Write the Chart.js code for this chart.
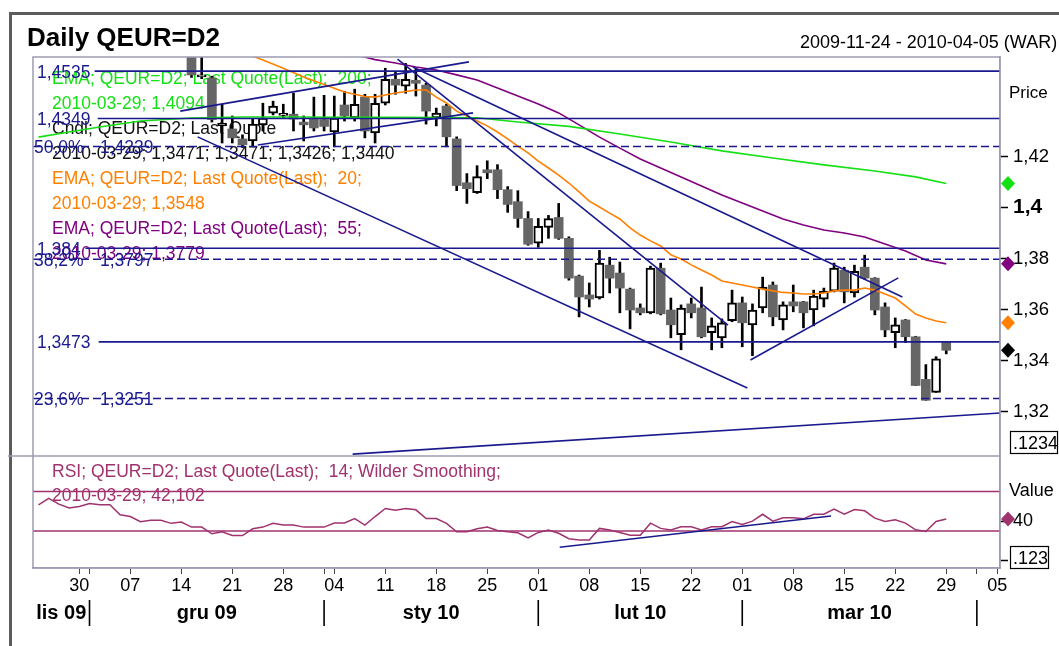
<!DOCTYPE html>
<html>
<head>
<meta charset="utf-8">
<title>Daily QEUR=D2</title>
<script src="https://cdn.jsdelivr.net/npm/chart.js@4.4.1/dist/chart.umd.min.js"></script>
<style>
  html, body { margin: 0; padding: 0; background: #fff; }
</style>
</head>
<body>
<canvas id="myChart" width="1059" height="646"></canvas>
<script>
/* globals Chart:false */
"use strict";

// x = trading day counted from 2009-11-24 (day 0), weekends skipped
const dayTicks = [4, 5, 9, 14, 19, 24, 28, 29, 34, 39, 44, 49, 54, 59, 64, 69, 74, 79, 84, 89, 92, 94];
const dayTickLabels = ["30", "", "07", "14", "21", "28", "", "04", "11", "18", "25", "01", "08", "15", "22", "01", "08", "15", "22", "29", "", "05"];
const monthStarts = [5, 28, 49, 69, 92];
const monthLabels = ["lis 09", "gru 09", "sty 10", "lut 10", "mar 10"];
const lastDate = "2010-03-29";

// daily candles, first one is day 15 (2009-12-15)
const firstCandle = 15;
const open = [1.4605, 1.4512, 1.4508, 1.4320, 1.4308, 1.4269, 1.4261, 1.4324, 1.4370, 1.4361,
  1.4366, 1.4335, 1.4351, 1.4345, 1.4296, 1.4402, 1.4351, 1.4433, 1.4292, 1.4409,
  1.4503, 1.4476, 1.4499, 1.4480, 1.4351, 1.4398, 1.4269, 1.4097, 1.4058, 1.4148,
  1.4148, 1.4070, 1.4023, 1.3957, 1.3860, 1.3922, 1.3961, 1.3879, 1.3731, 1.3657,
  1.3645, 1.3774, 1.3743, 1.3680, 1.3606, 1.3587, 1.3762, 1.3598, 1.3501, 1.3622,
  1.3606, 1.3509, 1.3489, 1.3556, 1.3626, 1.3540, 1.3606, 1.3696, 1.3559, 1.3630,
  1.3630, 1.3598, 1.3641, 1.3672, 1.3754, 1.3665, 1.3766, 1.3723, 1.3610, 1.3509,
  1.3559, 1.3493, 1.3326, 1.3275, 1.3471];
const high = [1.4620, 1.4590, 1.4515, 1.4405, 1.4359, 1.4285, 1.4347, 1.4409, 1.4417, 1.4405,
  1.4448, 1.4359, 1.4433, 1.4440, 1.4437, 1.4456, 1.4464, 1.4444, 1.4444, 1.4546,
  1.4534, 1.4565, 1.4542, 1.4487, 1.4390, 1.4405, 1.4277, 1.4133, 1.4164, 1.4183,
  1.4168, 1.4082, 1.4066, 1.3984, 1.3957, 1.3969, 1.4016, 1.3885, 1.3735, 1.3704,
  1.3832, 1.3805, 1.3786, 1.3684, 1.3622, 1.3770, 1.3782, 1.3645, 1.3618, 1.3645,
  1.3688, 1.3567, 1.3563, 1.3676, 1.3649, 1.3622, 1.3727, 1.3708, 1.3630, 1.3696,
  1.3632, 1.3676, 1.3684, 1.3782, 1.3766, 1.3774, 1.3813, 1.3725, 1.3626, 1.3567,
  1.3561, 1.3495, 1.3384, 1.3415, 1.3471];
const low = [1.4510, 1.4505, 1.4335, 1.4253, 1.4253, 1.4235, 1.4242, 1.4300, 1.4363, 1.4351,
  1.4300, 1.4261, 1.4300, 1.4300, 1.4238, 1.4339, 1.4339, 1.4273, 1.4253, 1.4402,
  1.4444, 1.4448, 1.4437, 1.4327, 1.4320, 1.4238, 1.4066, 1.4016, 1.4055, 1.4113,
  1.4035, 1.3981, 1.3922, 1.3852, 1.3844, 1.3879, 1.3875, 1.3715, 1.3571, 1.3610,
  1.3641, 1.3665, 1.3587, 1.3524, 1.3579, 1.3583, 1.3579, 1.3489, 1.3442, 1.3567,
  1.3489, 1.3442, 1.3450, 1.3552, 1.3454, 1.3419, 1.3587, 1.3536, 1.3520, 1.3591,
  1.3528, 1.3536, 1.3610, 1.3669, 1.3626, 1.3649, 1.3719, 1.3579, 1.3493, 1.3450,
  1.3470, 1.3302, 1.3244, 1.3275, 1.3426];
const close = [1.4520, 1.4517, 1.4345, 1.4331, 1.4273, 1.4246, 1.4327, 1.4351, 1.4398, 1.4366,
  1.4347, 1.4324, 1.4312, 1.4318, 1.4351, 1.4359, 1.4405, 1.4300, 1.4409, 1.4503,
  1.4480, 1.4503, 1.4487, 1.4378, 1.4370, 1.4277, 1.4086, 1.4074, 1.4121, 1.4136,
  1.4070, 1.4012, 1.3957, 1.3856, 1.3926, 1.3957, 1.3879, 1.3723, 1.3649, 1.3641,
  1.3782, 1.3723, 1.3684, 1.3598, 1.3587, 1.3762, 1.3583, 1.3540, 1.3606, 1.3587,
  1.3493, 1.3536, 1.3548, 1.3626, 1.3548, 1.3598, 1.3688, 1.3571, 1.3618, 1.3614,
  1.3587, 1.3653, 1.3672, 1.3762, 1.3669, 1.3750, 1.3723, 1.3598, 1.3520, 1.3540,
  1.3493, 1.3302, 1.3244, 1.3407, 1.3440];

// moving averages
const ema200Days = [0, 3, 6, 10, 15, 20, 25, 30, 35, 40, 43, 47, 52, 57, 62, 67, 72, 77, 82, 86, 89];
const ema200 = [1.4276, 1.4296, 1.4316, 1.4339, 1.4351, 1.4355, 1.4355, 1.4354, 1.4354, 1.4353, 1.4352,
  1.4335, 1.4318, 1.4288, 1.4257, 1.4222, 1.4194, 1.4167, 1.4143, 1.4120, 1.4094];
const ema20Days = [20, 21, 22, 24, 26, 28, 30, 32, 33, 34, 35, 36, 37, 38, 39, 40, 41, 42, 43, 44,
  45, 46, 47, 48, 49, 50, 51, 52, 53, 54, 55, 56, 57, 58, 59, 60, 61, 62, 63, 64,
  65, 66, 67, 68, 69, 70, 71, 72, 73, 74, 75, 76, 77, 78, 79, 80, 81, 82, 83, 84,
  85, 86, 87, 88, 89];
const ema20 = [1.4610, 1.4594, 1.4578, 1.4546, 1.4512, 1.4482, 1.4453, 1.4435, 1.4433, 1.4441,
  1.4449, 1.4455, 1.4461, 1.4461, 1.4433, 1.4410, 1.4378, 1.4359, 1.4339, 1.4320,
  1.4296, 1.4269, 1.4241, 1.4214, 1.4182, 1.4155, 1.4127, 1.4096, 1.4061, 1.4025,
  1.4002, 1.3978, 1.3955, 1.3920, 1.3892, 1.3869, 1.3849, 1.3814, 1.3798, 1.3775,
  1.3755, 1.3735, 1.3712, 1.3704, 1.3696, 1.3688, 1.3680, 1.3673, 1.3667, 1.3665,
  1.3661, 1.3661, 1.3665, 1.3673, 1.3676, 1.3676, 1.3684, 1.3676, 1.3661, 1.3645,
  1.3614, 1.3582, 1.3567, 1.3555, 1.3548];
const ema55Days = [31, 33, 35, 37, 39, 41, 43, 45, 47, 49, 51, 53, 55, 57, 59, 61, 63, 65, 67, 69,
  71, 73, 75, 77, 79, 81, 83, 85, 87, 89];
const ema55 = [1.4600, 1.4580, 1.4567, 1.4551, 1.4539, 1.4520, 1.4500, 1.4469, 1.4437, 1.4406,
  1.4371, 1.4324, 1.4276, 1.4233, 1.4190, 1.4155, 1.4120, 1.4084, 1.4049, 1.4018,
  1.3986, 1.3955, 1.3931, 1.3912, 1.3900, 1.3884, 1.3857, 1.3829, 1.3794, 1.3779];

// RSI 14, one value per day from day 0
const rsi = [56.5, 63.1, 57.2, 53.2, 54.8, 57.9, 56.5, 56.5, 46.3, 44.6,
  39.4, 40.8, 40.8, 37.7, 39.1, 33.9, 33.9, 27.1, 29.2, 25.4,
  25.4, 32.2, 33.9, 37.7, 36.0, 36.0, 33.9, 33.9, 33.9, 38.1,
  38.1, 42.5, 36.0, 44.6, 52.8, 51.0, 52.8, 51.4, 42.5, 42.5,
  37.7, 29.2, 29.2, 32.2, 33.9, 30.5, 29.2, 28.2, 23.0, 28.5,
  30.9, 27.7, 22.2, 20.8, 20.8, 32.6, 30.9, 28.5, 25.6, 25.6,
  37.9, 32.6, 30.9, 34.3, 34.3, 30.9, 34.3, 34.3, 39.6, 36.5,
  39.9, 46.9, 39.9, 43.4, 43.4, 42.3, 46.9, 46.9, 52.2, 46.9,
  51.7, 50.4, 43.0, 39.6, 41.3, 37.9, 31.2, 29.5, 39.6, 42.102];
const rsiBands = [70, 30];

// horizontal levels (null start = from the left edge)
const levels = [1.4535, 1.4349, 1.4239, 1.384, 1.3797, 1.3473, 1.3251];
const levelFib = ["", "", "50,0%", "", "38,2%", "", "23,6%"];
const levelFrom = [5.5, 5.8, null, 4.6, null, 5.9, null];

// drawn trend lines
const trendStartDay = [13.9, 21.5, 15.6, 35.2, 36.7, 69.8, 30.8];
const trendStartVal = [1.4378, 1.4245, 1.4277, 1.4582, 1.4551, 1.3402, 1.3033];
const trendEndDay = [42.2, 42.6, 69.5, 67.6, 84.7, 84.3, 94.3];
const trendEndVal = [1.4571, 1.4371, 1.3292, 1.3539, 1.3649, 1.3724, 1.3194];
const rsiTrendDay = [51.1, 77.7];
const rsiTrendVal = [13.5, 45.2];

const priceTicks = [1.32, 1.34, 1.36, 1.38, 1.4, 1.42];
const priceTickLabels = ["1,32", "1,34", "1,36", "1,38", "1,4", "1,42"];
const rsiTicks = [0, 40];
const rsiTickLabels = ["", "40"];

(() => {
    const FONT = '"Liberation Sans", Arial, Helvetica, sans-serif';
    const NAVY = "#1a1a8e";
    const GREEN = "#14e014";
    const ORANGE = "#ff7f00";
    const PURPLE = "#800080";
    const RSI_COL = "#a0326e";
    const FRAME = "#9c9cb2";
    const X_MIN = -0.54;
    const X_MAX = 94.27;

    // decimal comma, fixed digits where given
    const fmt = (v, d) => (d === undefined ? String(v) : v.toFixed(d)).replace(".", ",");
    const pts = (days, vals) => days.map((d, k) => ({ x: d, y: vals[k] }));
    const last = (a) => a[a.length - 1];

    const candleDays = open.map((_, k) => firstCandle + k);
    const isUp = close.map((c, k) => c >= open[k]);

    const legendText = [
        "EMA; QEUR=D2; Last Quote(Last);  200;",
        lastDate + "; " + fmt(last(ema200), 4),
        "Cndl; QEUR=D2; Last Quote",
        lastDate + "; " + [open, high, low, close].map((a) => fmt(last(a), 4)).join("; "),
        "EMA; QEUR=D2; Last Quote(Last);  20;",
        lastDate + "; " + fmt(last(ema20), 4),
        "EMA; QEUR=D2; Last Quote(Last);  55;",
        lastDate + "; " + fmt(last(ema55), 4),
    ];
    const legendColors = [GREEN, GREEN, "#111", "#111", ORANGE, ORANGE, PURPLE, PURPLE];

    const line = (data, color, width, order, extra) => Object.assign({
        type: "line",
        data: data,
        borderColor: color,
        borderWidth: width,
        pointRadius: 0,
        tension: 0,
        fill: false,
        order: order,
        yAxisID: "y",
    }, extra || {});

    const datasets = [];

    // candles: wicks first, then bodies
    datasets.push({
        type: "bar",
        data: candleDays.map((d, k) => ({ x: d, y: [low[k], high[k]] })),
        backgroundColor: "#000",
        barThickness: 2,
        grouped: false,
        order: 20,
        yAxisID: "y",
    });
    datasets.push({
        type: "bar",
        data: candleDays.map((d, k) => ({ x: d, y: [open[k], close[k]] })),
        backgroundColor: isUp.map((u) => (u ? "#fff" : "#666")),
        borderColor: "#000",
        borderWidth: isUp.map((u) => (u ? 2 : 0)),
        borderSkipped: false,
        barThickness: 9,
        minBarLength: 2,
        grouped: false,
        order: 15,
        yAxisID: "y",
    });

    datasets.push(line(pts(ema200Days, ema200), GREEN, 1.6, 5));
    datasets.push(line(pts(ema20Days, ema20), ORANGE, 1.6, 5));
    datasets.push(line(pts(ema55Days, ema55), PURPLE, 1.6, 5));

    levels.forEach((v, k) => {
        const from = levelFrom[k] === null ? X_MIN : levelFrom[k];
        datasets.push(line([{ x: from, y: v }, { x: X_MAX, y: v }], NAVY, 1.6, 4,
            levelFib[k] ? { borderDash: [8, 4] } : {}));
    });

    trendStartDay.forEach((d, k) => {
        datasets.push(line([{ x: d, y: trendStartVal[k] }, { x: trendEndDay[k], y: trendEndVal[k] }], NAVY, 1.6, 3));
    });

    // RSI pane
    datasets.push(line(rsi.map((v, k) => ({ x: k, y: v })), RSI_COL, 1.5, 5, { yAxisID: "y2" }));
    rsiBands.forEach((v) => {
        datasets.push(line([{ x: X_MIN, y: v }, { x: X_MAX, y: v }], RSI_COL, 1.5, 4, { yAxisID: "y2" }));
    });
    datasets.push(line(pts(rsiTrendDay, rsiTrendVal), NAVY, 1.6, 3, { yAxisID: "y2" }));

    const diamond = (ctx, x, y, color) => {
        ctx.fillStyle = color;
        ctx.beginPath();
        ctx.moveTo(x, y - 7.5);
        ctx.lineTo(x + 7, y);
        ctx.lineTo(x, y + 7.5);
        ctx.lineTo(x - 7, y);
        ctx.closePath();
        ctx.fill();
    };

    const decor = {
        id: "decor",
        beforeDraw(chart) {
            const ctx = chart.ctx;
            ctx.save();
            ctx.fillStyle = "#fff";
            ctx.fillRect(0, 0, chart.width, chart.height);
            // outer frame
            ctx.fillStyle = "#5c5c5c";
            ctx.fillRect(9, 12, chart.width - 9, 3);
            ctx.fillRect(9, 12, 3, chart.height - 12);
            ctx.fillStyle = "#000";
            ctx.textBaseline = "alphabetic";
            ctx.font = "bold 26px " + FONT;
            ctx.fillText("Daily QEUR=D2", 27, 46);
            ctx.font = "18px " + FONT;
            ctx.fillText("2009-11-24 - 2010-04-05 (WAR)", 800, 48);
            ctx.restore();
        },
        beforeDatasetsDraw(chart) {
            const ctx = chart.ctx;
            const a = chart.chartArea;
            const ys = chart.scales.y;
            ctx.save();
            ctx.textBaseline = "alphabetic";
            ctx.font = "17.5px " + FONT;
            legendText.forEach((t, k) => {
                ctx.fillStyle = legendColors[k];
                ctx.fillText(t, a.left + 19, a.top + 26.5 + k * 25.1);
            });
            ctx.fillStyle = NAVY;
            levels.forEach((v, k) => {
                const y = ys.getPixelForValue(v) + 6.5;
                if (levelFib[k]) {
                    ctx.fillText(levelFib[k], a.left + 1, y);
                    ctx.fillText(fmt(v, 4), a.left + 67, y);
                } else {
                    ctx.fillText(fmt(v), a.left + 4, y);
                }
            });
            const r = chart.scales.y2;
            ctx.fillStyle = RSI_COL;
            ctx.fillText("RSI; QEUR=D2; Last Quote(Last);  14; Wilder Smoothing;", a.left + 19, r.top + 21);
            ctx.fillText(lastDate + "; " + fmt(last(rsi), 3), a.left + 19, r.top + 45);
            ctx.restore();
        },
        afterDraw(chart) {
            const ctx = chart.ctx;
            const a = chart.chartArea;
            const ys = chart.scales.y;
            const r = chart.scales.y2;
            const xs = chart.scales.x;
            ctx.save();
            // pane frames
            ctx.strokeStyle = FRAME;
            ctx.lineWidth = 1.5;
            ctx.strokeRect(a.left, a.top, a.right - a.left, a.bottom - a.top);
            ctx.beginPath();
            ctx.moveTo(8, ys.bottom);
            ctx.lineTo(a.right, ys.bottom);
            ctx.stroke();

            // last-value markers
            const mx = a.right + 8;
            diamond(ctx, mx, ys.getPixelForValue(last(ema200)), GREEN);
            diamond(ctx, mx, ys.getPixelForValue(last(ema55)), PURPLE);
            diamond(ctx, mx, ys.getPixelForValue(last(ema20)), ORANGE);
            diamond(ctx, mx, ys.getPixelForValue(last(close)), "#000");
            diamond(ctx, mx, r.getPixelForValue(last(rsi)), RSI_COL);

            ctx.fillStyle = "#000";
            ctx.textBaseline = "alphabetic";
            ctx.font = "17px " + FONT;
            ctx.fillText("Price", a.right + 9, ys.top + 41);
            ctx.font = "18px " + FONT;
            ctx.fillText("Value", a.right + 9, r.top + 40);

            // precision boxes
            ctx.strokeStyle = "#000";
            ctx.lineWidth = 1.2;
            ctx.fillStyle = "#fff";
            ctx.fillRect(a.right + 10, ys.bottom - 25, 48, 22);
            ctx.strokeRect(a.right + 10.5, ys.bottom - 24.5, 47, 22);
            ctx.fillRect(a.right + 10, r.bottom - 22, 39, 23);
            ctx.strokeRect(a.right + 10.5, r.bottom - 21.5, 38, 22);
            ctx.fillStyle = "#000";
            ctx.font = "18px " + FONT;
            ctx.fillText(".1234", a.right + 13, ys.bottom - 7);
            ctx.fillText(".123", a.right + 13, r.bottom - 4);

            // month row
            ctx.lineWidth = 1.6;
            ctx.font = "bold 20px " + FONT;
            ctx.textAlign = "center";
            let prev = a.left;
            monthStarts.forEach((d, k) => {
                const x = xs.getPixelForValue(d);
                ctx.beginPath();
                ctx.moveTo(x, xs.top + 32);
                ctx.lineTo(x, xs.top + 58);
                ctx.stroke();
                ctx.fillText(monthLabels[k], (prev + x) / 2, xs.top + 51);
                prev = x;
            });
            ctx.restore();
        },
    };

    const ctx = document.getElementById("myChart");
    // eslint-disable-next-line no-unused-vars
    const myChart = new Chart(ctx, {
        type: "line",
        data: { datasets: datasets },
        options: {
            responsive: false,
            devicePixelRatio: 1,
            animation: false,
            events: [],
            layout: { padding: { left: 33, top: 57, right: 0, bottom: 0 } },
            plugins: {
                legend: { display: false },
                tooltip: { enabled: false },
            },
            scales: {
                x: {
                    type: "linear",
                    min: X_MIN,
                    max: X_MAX,
                    offset: false,
                    afterBuildTicks: (s) => { s.ticks = dayTicks.map((v) => ({ value: v })); },
                    afterFit: (s) => { s.height = 78; },
                    grid: { drawOnChartArea: false, offset: false, tickLength: 6, tickColor: "#444", tickWidth: 1 },
                    border: { color: FRAME, width: 1.5 },
                    ticks: {
                        autoSkip: false,
                        maxRotation: 0,
                        padding: 1,
                        color: "#000",
                        font: { family: FONT, size: 18 },
                        callback: (v, i) => dayTickLabels[i],
                    },
                },
                y: {
                    type: "linear",
                    position: "right",
                    stack: "panes",
                    stackWeight: 399,
                    min: 1.30255,
                    max: 1.45902,
                    beginAtZero: false,
                    afterBuildTicks: (s) => { s.ticks = priceTicks.map((v) => ({ value: v })); },
                    afterFit: (s) => { s.width = 59; },
                    grid: { drawOnChartArea: false, tickLength: 8, tickColor: "#000", tickWidth: 1.5 },
                    border: { color: FRAME, width: 1.5 },
                    ticks: {
                        padding: 5,
                        color: "#000",
                        font: (c) => (c.tick && c.tick.value === 1.4
                            ? { family: FONT, size: 21, weight: "bold" }
                            : { family: FONT, size: 18.5 }),
                        callback: (v, i) => priceTickLabels[i],
                    },
                },
                y2: {
                    type: "linear",
                    position: "right",
                    stack: "panes",
                    stackWeight: 112,
                    min: -7.5,
                    max: 105.9,
                    beginAtZero: false,
                    afterBuildTicks: (s) => { s.ticks = rsiTicks.map((v) => ({ value: v })); },
                    afterFit: (s) => { s.width = 59; },
                    grid: { drawOnChartArea: false, tickLength: 8, tickColor: "#000", tickWidth: 1.5 },
                    border: { color: FRAME, width: 1.5 },
                    ticks: {
                        padding: 5,
                        color: "#000",
                        font: { family: FONT, size: 18 },
                        callback: (v, i) => rsiTickLabels[i],
                    },
                },
            },
        },
        plugins: [decor],
    });
})();
</script>
</body>
</html>
